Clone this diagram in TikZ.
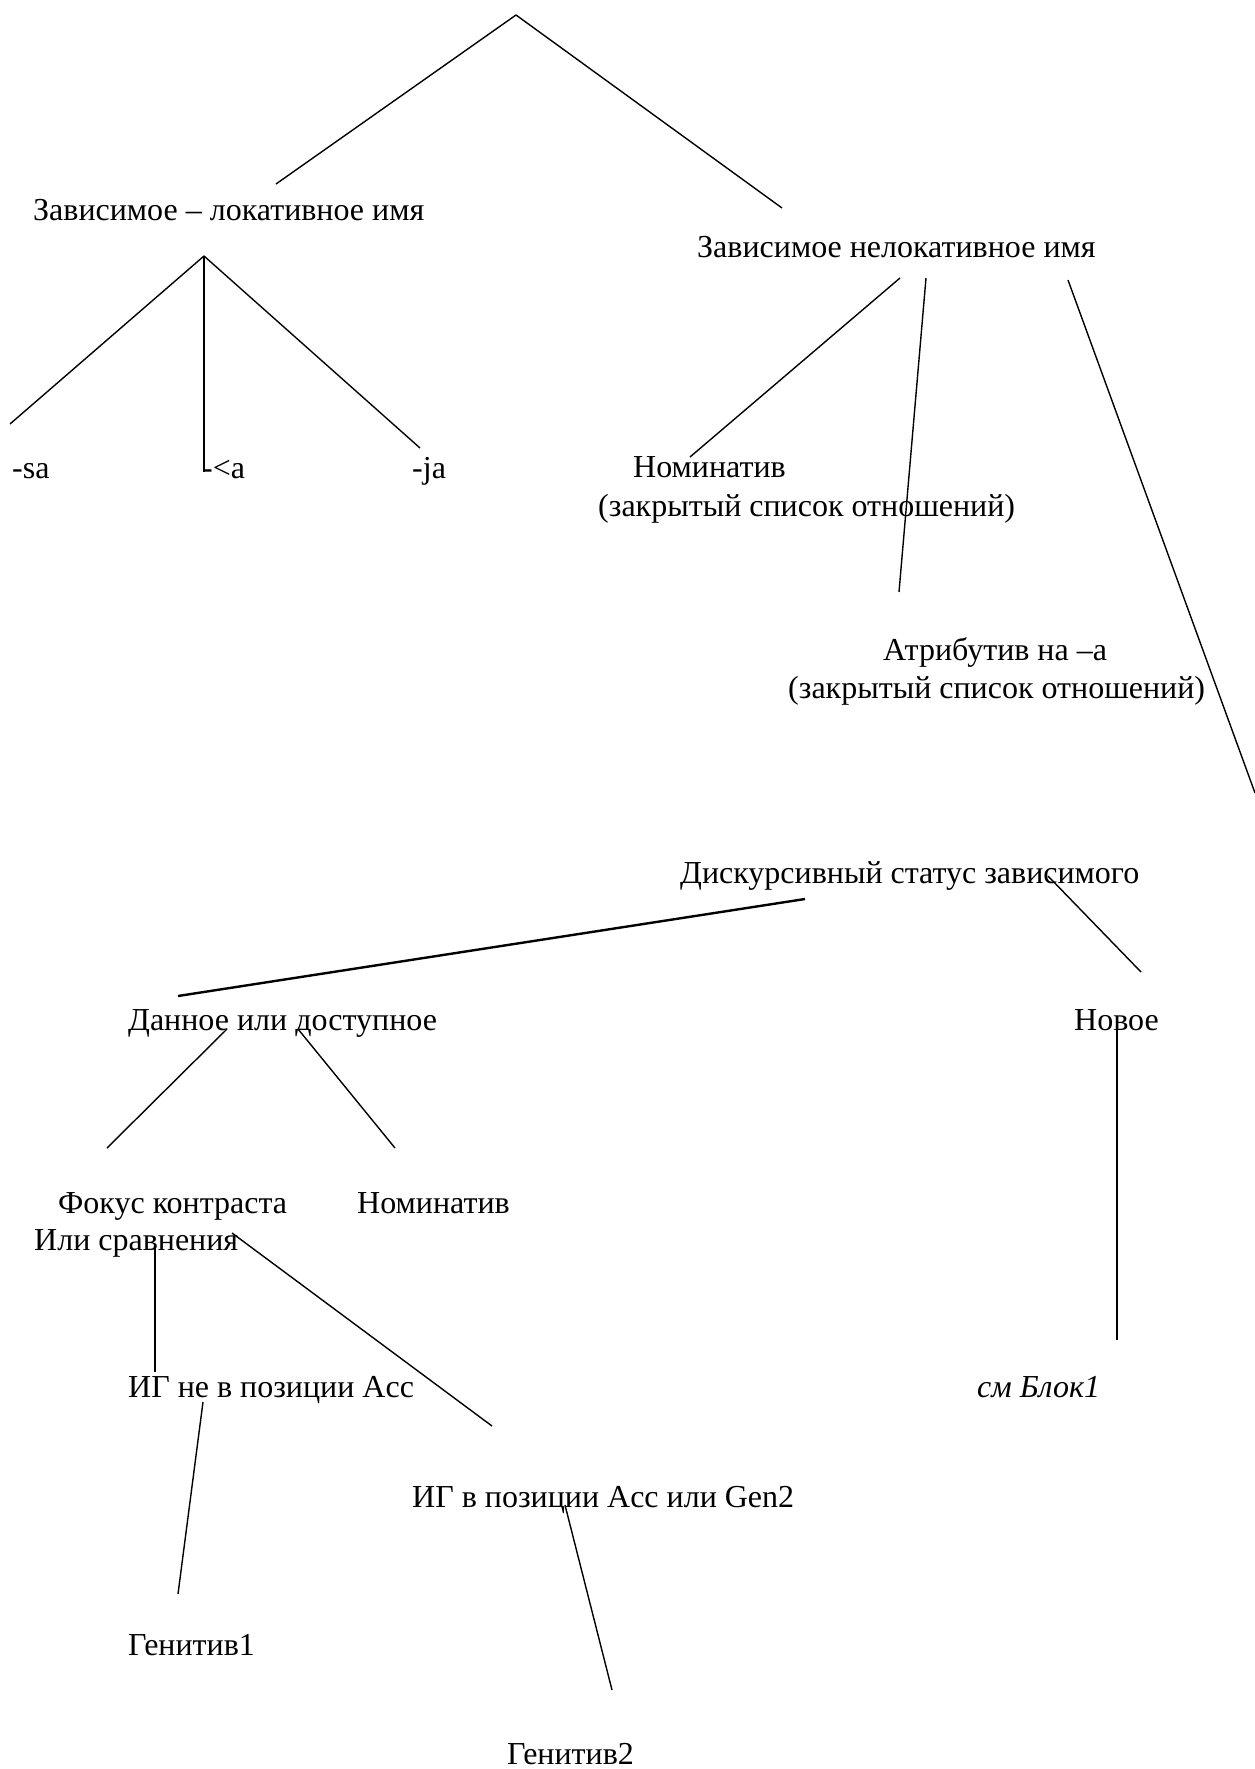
\documentclass[tikz,border=0pt]{standalone}
\usepackage{fontspec}
\setmainfont{Liberation Serif}
\begin{document}
\begin{tikzpicture}[x=1pt,y=-1pt,
  lbl/.style={anchor=base west, inner sep=0pt, font=\fontsize{32}{38}\selectfont},
  ln/.style={line width=1.4pt},
  lnb/.style={line width=2.4pt}]
\useasboundingbox[fill=white] (0,0) rectangle (1255,1769);
% texts
\node[lbl] (loc) at (33,220) {Зависимое – локативное имя};
\node[lbl] (nonloc) at (697,257) {Зависимое нелокативное имя};
\node[lbl] (sa) at (12,478) {-sa};
\node[lbl] (lta) at (202,478) {-<a};
\node[lbl] (ja) at (412,478) {-ja};
\node[lbl] (nom1) at (633,477) {Номинатив};
\node[lbl] (nom1b) at (598,516) {(закрытый список отношений)};
\node[lbl] (attr) at (883,660) {Атрибутив на –а};
\node[lbl] (attrb) at (788,698) {(закрытый список отношений)};
\node[lbl] (disc) at (680,883) {Дискурсивный статус зависимого};
\node[lbl] (given) at (128,1030) {Данное или доступное};
\node[lbl] (new) at (1074,1030) {Новое};
\node[lbl] (focus) at (58,1213) {Фокус контраста};
\node[lbl] (nom2) at (357,1213) {Номинатив};
\node[lbl] (focusb) at (34,1250) {Или сравнения};
\node[lbl] (npnot) at (128,1397) {ИГ не в позиции Acc};
\node[lbl] (block) at (977,1397) {\itshape см Блок1};
\node[lbl] (npacc) at (412,1507) {ИГ в позиции Acc или Gen2};
\node[lbl] (gen1) at (128,1655) {Генитив1};
\node[lbl] (gen2) at (507,1764) {Генитив2};
% connector end points
\coordinate (top) at (516,15);
\coordinate (locT) at (276,184);
\coordinate (nonlocT) at (782,208);
\coordinate (locB) at (204,256);
\coordinate (saT) at (10,424);
\coordinate (ltaT) at (204,472);
\coordinate (jaT) at (420,448);
\coordinate (nlB1) at (900,278);
\coordinate (nom1T) at (690,457);
\coordinate (nlB2) at (926,278);
\coordinate (attrT) at (899,592);
\coordinate (nlB3) at (1068,280);
\coordinate (discT) at (1255,793);
\coordinate (discB1) at (805,899);
\coordinate (givenT) at (178,996);
\coordinate (discB2) at (1048,876);
\coordinate (newT) at (1141,972);
\coordinate (givenB1) at (227,1029);
\coordinate (focusT) at (107,1148);
\coordinate (givenB2) at (298,1029);
\coordinate (nom2T) at (395,1148);
\coordinate (focusB1) at (155,1248);
\coordinate (npnotT) at (155,1372);
\coordinate (focusB2) at (232,1233);
\coordinate (npaccT) at (492,1426);
\coordinate (newB) at (1117,1030);
\coordinate (blockT) at (1117,1340);
\coordinate (npnotB) at (203,1402);
\coordinate (gen1T) at (178,1594);
\coordinate (npaccB) at (565,1505);
\coordinate (gen2T) at (612,1690);
% connectors
\draw[ln] (top) -- (locT);
\draw[ln] (top) -- (nonlocT);
\draw[ln] (locB) -- (saT);
\draw[ln] (locB) -- (ltaT);
\draw[ln] (locB) -- (jaT);
\draw[ln] (nlB1) -- (nom1T);
\draw[ln] (nlB2) -- (attrT);
\draw[ln] (nlB3) -- (discT);
\draw[lnb] (discB1) -- (givenT);
\draw[ln] (discB2) -- (newT);
\draw[ln] (givenB1) -- (focusT);
\draw[ln] (givenB2) -- (nom2T);
\draw[ln] (focusB1) -- (npnotT);
\draw[ln] (focusB2) -- (npaccT);
\draw[ln] (newB) -- (blockT);
\draw[ln] (npnotB) -- (gen1T);
\draw[ln] (npaccB) -- (gen2T);
\end{tikzpicture}
\end{document}
